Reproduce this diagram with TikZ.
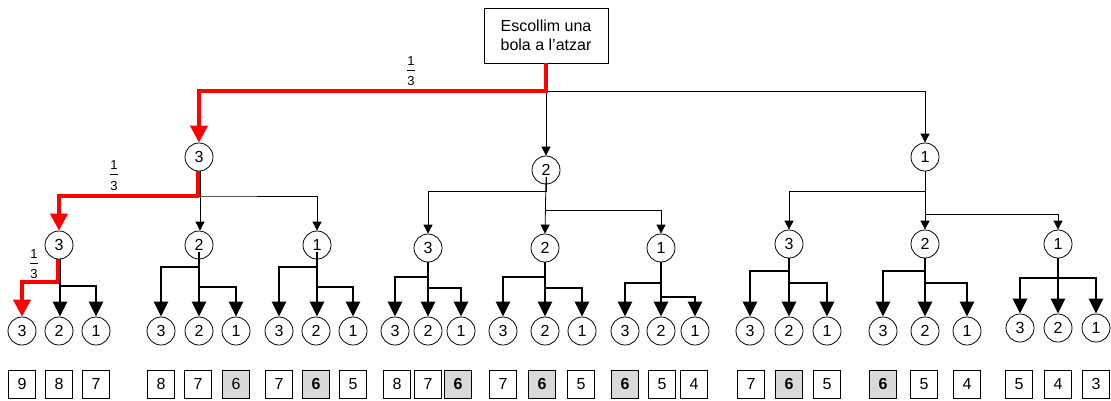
\documentclass[tikz,border=0pt]{standalone}
\usepackage{fontspec}
\setmainfont{Liberation Sans}
\usetikzlibrary{arrows.meta}
\definecolor{boxgray}{RGB}{217,217,217}
\begin{document}
\begin{tikzpicture}[x=1pt,y=-1pt,
  ball/.style={circle,draw,line width=0.8pt,minimum size=28pt,inner sep=0pt,font=\fontsize{16}{16}\selectfont},
  res/.style={draw,line width=0.8pt,minimum width=27pt,minimum height=28pt,inner sep=0pt,font=\fontsize{16}{16}\selectfont},
  hl/.style={res,fill=boxgray},
  startbox/.style={draw,line width=0.8pt,minimum width=124pt,minimum height=55pt,inner sep=0pt,align=center,font=\fontsize{16}{18.5}\selectfont},
  thinarr/.style={line width=0.8pt,-{Triangle[width=9pt,length=9pt]}},
  thickarr/.style={line width=2.6pt,-{Triangle[width=14pt,length=15pt]}},
  redarr/.style={red,line width=4pt,-{Triangle[width=17pt,length=17pt]}},
  fraclabel/.style={font=\fontsize{13}{12}\selectfont,inner sep=0pt,align=center}]
\useasboundingbox (0,0) rectangle (1111,400);

% top box
\node[startbox] (top) at (546,35.5) {Escollim una\\bola a l’atzar};

% level 1
\node[ball] (L1a) at (199,157) {3};
\node[ball] (L1b) at (546,170) {2};
\node[ball] (L1c) at (925,157) {1};

% level 2
\node[ball] (a1) at (59,245) {3};
\node[ball] (a2) at (199,245) {2};
\node[ball] (a3) at (317,245) {1};
\node[ball] (b1) at (428,248) {3};
\node[ball] (b2) at (545,248) {2};
\node[ball] (b3) at (661,248) {1};
\node[ball] (c1) at (789,244) {3};
\node[ball] (c2) at (925,244) {2};
\node[ball] (c3) at (1058,244) {1};

% level 3
\foreach \g/\xa/\xb/\xc/\yy in {1/22/59/96/331, 2/161/199/236/331, 3/279/316/353/331,
  4/395/428/461/331, 5/503/545/582/331, 6/625/661/695/331,
  7/750/789/827/331, 8/883/925/967/331, 9/1020/1058/1096/328}{
  \node[ball] (n\g1) at (\xa,\yy) {3};
  \node[ball] (n\g2) at (\xb,\yy) {2};
  \node[ball] (n\g3) at (\xc,\yy) {1};
}

% result boxes
\node[res] (r11) at (22,384) {9};
\node[res] (r12) at (59,384) {8};
\node[res] (r13) at (96,384) {7};
\node[res] (r21) at (161,384) {8};
\node[res] (r22) at (198,384) {7};
\node[hl]  (r23) at (236,384) {6};
\node[res] (r31) at (279,384) {7};
\node[hl]  (r32) at (316,384) {\textbf{6}};
\node[res] (r33) at (353,384) {5};
\node[res] (r41) at (397,384) {8};
\node[res] (r42) at (428,384) {7};
\node[hl]  (r43) at (458,384) {\textbf{6}};
\node[res] (r51) at (503,384) {7};
\node[hl]  (r52) at (542,384) {\textbf{6}};
\node[res] (r53) at (581,384) {5};
\node[hl]  (r61) at (625,384) {\textbf{6}};
\node[res] (r62) at (662,384) {5};
\node[res] (r63) at (694,384) {4};
\node[res] (r71) at (751,384) {7};
\node[hl]  (r72) at (789,384) {\textbf{6}};
\node[res] (r73) at (827,384) {5};
\node[hl]  (r81) at (883,384) {\textbf{6}};
\node[res] (r82) at (924,384) {5};
\node[res] (r83) at (967,384) {4};
\node[res] (r91) at (1019,384) {5};
\node[res] (r92) at (1058,384) {4};
\node[res] (r93) at (1096,384) {3};

% fractions
\node[fraclabel] (f1) at (411,71) {1\\[-7pt]\rule{8pt}{0.6pt}\\[3.5pt]3};
\node[fraclabel] (f2) at (114,175.5) {1\\[-7pt]\rule{8pt}{0.6pt}\\[3.5pt]3};
\node[fraclabel] (f3) at (34,264) {1\\[-7pt]\rule{8pt}{0.6pt}\\[3.5pt]3};

% junctions
\coordinate (j0) at (546,91);
\coordinate (ja) at (199,196);
\coordinate (jb1) at (546,191);
\coordinate (jb2) at (546,210);
\coordinate (jc1) at (925,191);
\coordinate (jc2) at (925,214);

% top -> level 1
\draw[thinarr] (j0) -| (L1c.north);
\draw[thinarr] (j0) -- (L1b.north);
\draw[redarr] (top.south) -- (j0) -| (L1a.north);

% level 1 -> level 2
\draw[thinarr] ([xshift=1pt]L1a.south) |- (ja) -| (a3.north);
\draw[thinarr] ([xshift=1pt]ja) -- ([xshift=1pt]a2.north);
\draw[redarr] ([xshift=-1pt]L1a.south) |- (ja) -| (a1.north);

\draw[thinarr] ([yshift=7pt]L1b.south) -- (jb1) -| (b1.north);
\draw[thinarr] ([yshift=7pt]L1b.south) -- (b2.north);
\draw[thinarr] (jb2) -| (b3.north);

\draw[thinarr] (L1c.south) -- (jc1) -| (c1.north);
\draw[thinarr] (L1c.south) -- (c2.north);
\draw[thinarr] (jc2) -| (c3.north);

% level 2 -> level 3
% group 1
\coordinate (k1l) at (59,282);
\coordinate (k1r) at (60,286);
\draw[thickarr] ([xshift=1pt]a1.south) -- ([xshift=1pt]a1.south |- n12.north);
\draw[thickarr] (k1r) -| (n13.north);
\draw[redarr] ([xshift=-1.5pt]a1.south) |- (k1l) -| (n11.north);

\foreach \p/\g/\yl/\yr/\up in {a2/2/267/287/7, a3/3/267/287/7, b1/4/277/288/0, b2/5/277/288/0,
  b3/6/283/297/0, c1/7/271/283/0, c2/8/271/283/0, c3/9/278/278/0}{
  \draw[thickarr] ([yshift=\up pt]\p.south) -- (\p.south |- n\g2.north);
  \draw[thickarr] (\p.south |- 0,\yl) -| (n\g1.north);
  \draw[thickarr] (\p.south |- 0,\yr) -| (n\g3.north);
}
\end{tikzpicture}
\end{document}
